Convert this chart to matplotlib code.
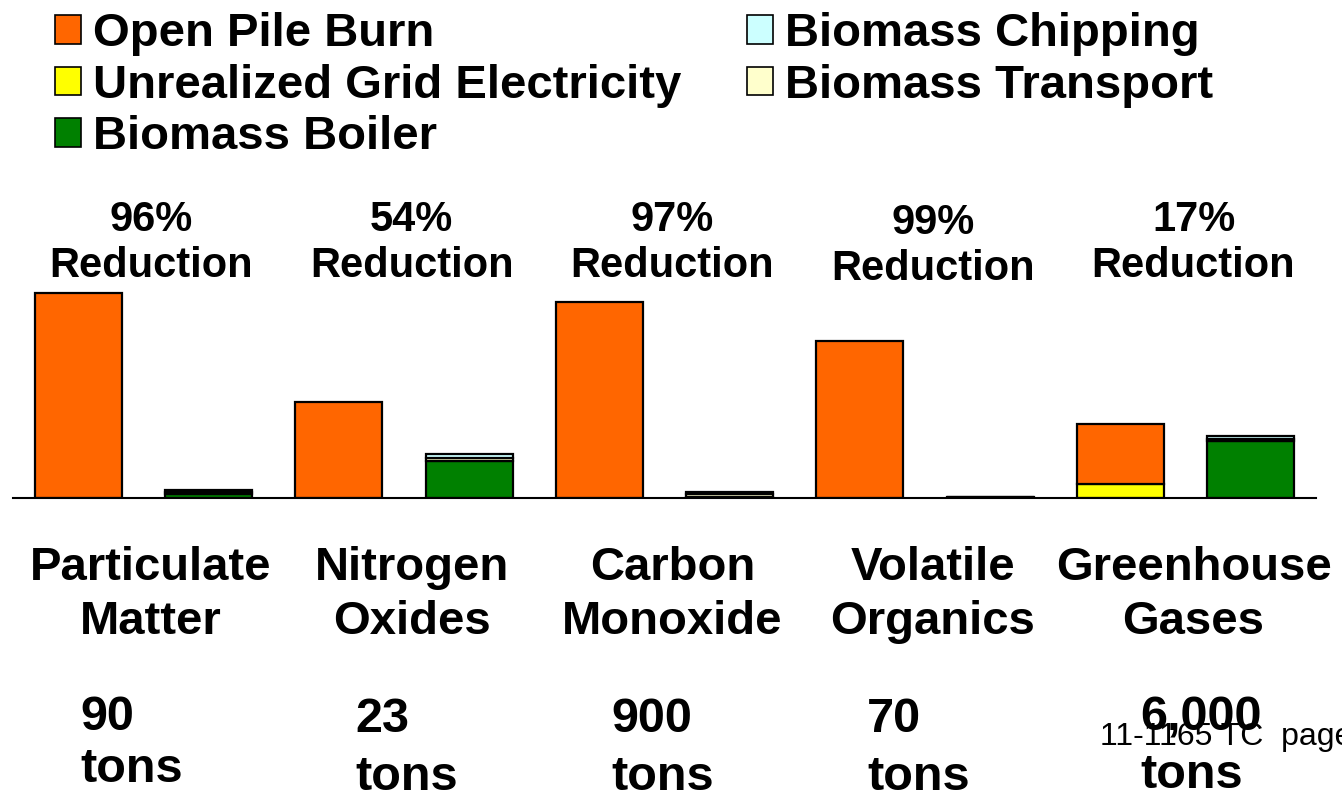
import numpy as np
import matplotlib
matplotlib.use("Agg")
import matplotlib.pyplot as plt
import matplotlib.transforms as mtransforms
from matplotlib.patches import Patch

plt.rcParams["font.family"] = ["Liberation Sans", "DejaVu Sans"]

# ====== data (relative emissions, open burn bar vs biomass bar) ======
pollutants = ["Particulate\nMatter", "Nitrogen\nOxides", "Carbon\nMonoxide",
              "Volatile\nOrganics", "Greenhouse\nGases"]
reductions = ["96%", "54%", "97%", "99%", "17%"]
tons_num = ["90", "23", "900", "70", "6,000"]

# left bar of each pair: open pile burn scenario
unrealized_grid = [0, 0, 0, 0, 14]
open_pile_burn = [205, 96, 196, 157, 60]
# right bar of each pair: biomass boiler scenario
biomass_boiler = [4, 37, 1, 0.5, 57]
biomass_transport = [2, 3, 3, 0.5, 2]
biomass_chipping = [2, 4, 2, 0.5, 3]

C_OPEN = "#FF6600"
C_GRID = "#FFFF00"
C_BOILER = "#008000"
C_CHIP = "#CCFFFF"
C_TRANS = "#FFFFCC"

W, H = 1342, 796
fig = plt.figure(figsize=(W / 100, H / 100), dpi=100)
ax = fig.add_axes([13 / W, 1 - 498 / H, 1303 / W, 218 / H])

x = np.arange(len(pollutants))
bw = 0.334
kw = dict(width=bw, edgecolor="black", linewidth=1.6)

# left bars
ax.bar(x - 0.25, unrealized_grid, color=C_GRID, **kw)
ax.bar(x - 0.25, open_pile_burn, bottom=unrealized_grid, color=C_OPEN, **kw)

# right bars (stacked)
b1 = np.array(biomass_boiler)
b2 = b1 + np.array(biomass_transport)
ax.bar(x + 0.25, biomass_boiler, color=C_BOILER, **kw)
ax.bar(x + 0.25, biomass_transport, bottom=b1, color=C_TRANS, **kw)
ax.bar(x + 0.25, biomass_chipping, bottom=b2, color=C_CHIP, **kw)

ax.set_xlim(-0.5, 4.5)
ax.set_ylim(0, 218)
for s in ["top", "left", "right"]:
    ax.spines[s].set_visible(False)
ax.spines["bottom"].set_linewidth(1.5)
ax.set_xticks([])
ax.set_yticks([])
ax.patch.set_alpha(0)

trans = mtransforms.blended_transform_factory(ax.transData, fig.transFigure)

def fy(py):
    return 1 - py / H

# reduction labels
for i, r in enumerate(reductions):
    yy = 246 if i == 3 else 243
    ax.text(i + 0.03, fy(yy), f"{r}\nReduction", transform=trans,
            ha="center", va="center", fontsize=30, fontweight="bold",
            linespacing=1.2)

# pollutant labels
for i, p in enumerate(pollutants):
    ax.text(i + 0.03, fy(595), p, transform=trans, ha="center", va="center",
            fontsize=34, fontweight="bold", linespacing=1.27)

# tonnage labels
ton_x = [80, 355, 611, 867, 1140]
num_y = [717, 720, 720, 720, 718]
unit_y = [770, 778, 778, 778, 776]
for tx, ny, uy, t in zip(ton_x, num_y, unit_y, tons_num):
    fig.text(tx / W, fy(ny), t, ha="left", va="center", fontsize=35,
             fontweight="bold", zorder=5)
    fig.text(tx / W, fy(uy), "tons", ha="left", va="center", fontsize=35,
             fontweight="bold", zorder=5)

fig.text(1100 / W, fy(737), "11-1165 TC  page", ha="left", va="center",
         fontsize=23, zorder=4)

# legend
handles = [Patch(facecolor=c, edgecolor="black", linewidth=1.2)
           for c in [C_OPEN, C_GRID, C_BOILER, C_CHIP, C_TRANS]]
labels = ["Open Pile Burn", "Unrealized Grid Electricity", "Biomass Boiler",
          "Biomass Chipping", "Biomass Transport"]
leg = fig.legend(handles, labels, loc="upper left",
                 bbox_to_anchor=(55 / W, 1 - 12 / H), ncol=2, frameon=False,
                 prop=dict(size=34, weight="bold"), handlelength=0.55,
                 handleheight=0.55, handletextpad=0.25, labelspacing=0.16,
                 columnspacing=1.4, borderaxespad=0, borderpad=0)

fig.savefig("out.png", dpi=100)
